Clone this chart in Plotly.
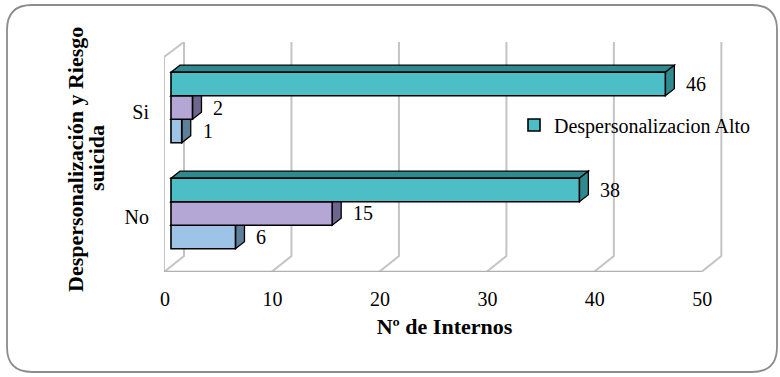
import plotly.graph_objects as go

# ---- data ----
categories = ["No", "Si"]
series_names = ["Despersonalizacion Bajo", "Despersonalizacion Medio", "Despersonalizacion Alto"]
bajo = [6, 1]
medio = [15, 2]
alto = [38, 46]
x_ticks = [0, 10, 20, 30, 40, 50]

# ---- styling ----
FONT = "Liberation Serif, Times New Roman, serif"
front_colors = ["#9DC3E6", "#B4A7D6", "#4BBEC6"]
side_colors = ["#5E7F98", "#6F6690", "#2F8A90"]
grid_color = "#C4C4C4"

W, H = 780, 377
L, R, T, B = 164, 55, 42, 105
plot_w = W - L - R
plot_h = H - T - B

# axis ranges (bar front faces start slightly right of the floor edge)
x_min, x_max = -0.65, 51.55
y_min, y_max = -0.552, 1.618
pxx = plot_w / (x_max - x_min)   # pixels per x unit
pxy = plot_h / (y_max - y_min)   # pixels per y unit

bar_w = 0.222
offsets = [-1.5 * bar_w, -0.5 * bar_w, 0.5 * bar_w]
depth_dx = 9 / pxx
depth_dy = 7 / pxy

ypos = list(range(len(categories)))

fig = go.Figure()
series = [bajo, medio, alto]
for i, vals in enumerate(series):
    fig.add_trace(go.Bar(
        x=vals, y=ypos, orientation="h", name=series_names[i],
        width=bar_w, offset=offsets[i],
        marker=dict(color=front_colors[i], line=dict(color="#000000", width=1.6)),
        showlegend=(i == 2), hoverinfo="x",
    ))

shapes = []
# wall / floor geometry (in data units via pixel offsets)
front_off = -7 / pxx
back_off = 13 / pxx
y_floor_front = y_min
y_floor_back = y_min + 16 / pxy
y_wall_top_back = y_max
y_wall_top_front = y_max - 15 / pxy

wall_line = dict(color=grid_color, width=2)
# left side wall
shapes.append(dict(
    type="path", xref="x", yref="y", layer="below", line=wall_line,
    path=(f"M{front_off},{y_floor_front} L{front_off},{y_wall_top_front} "
          f"L{back_off},{y_wall_top_back} L{back_off},{y_floor_back} Z"),
))
# back wall gridlines and floor diagonals
for v in x_ticks[1:]:
    shapes.append(dict(
        type="path", xref="x", yref="y", layer="below", line=wall_line,
        path=(f"M{v + back_off},{y_wall_top_back} L{v + back_off},{y_floor_back} "
              f"L{v + front_off},{y_floor_front}"),
    ))
# front floor edge
shapes.append(dict(
    type="line", xref="x", yref="y", layer="below",
    x0=front_off, x1=x_ticks[-1] + front_off, y0=y_floor_front, y1=y_floor_front,
    line=dict(color="#B0B0B0", width=2.5),
))

# 3D faces of each bar: top face and right end face
for i, vals in enumerate(series):
    for yc, v in zip(ypos, vals):
        y0 = yc + offsets[i]
        y1 = y0 + bar_w
        shapes.append(dict(
            type="path", xref="x", yref="y", layer="below",
            fillcolor=side_colors[i], line=dict(color="#000000", width=1.3),
            path=(f"M0,{y1} L{depth_dx},{y1 + depth_dy} L{v + depth_dx},{y1 + depth_dy} "
                  f"L{v},{y1} Z"),
        ))
        shapes.append(dict(
            type="path", xref="x", yref="y", layer="below",
            fillcolor=side_colors[i], line=dict(color="#000000", width=1.3),
            path=(f"M{v},{y1} L{v + depth_dx},{y1 + depth_dy} L{v + depth_dx},{y0 + depth_dy} "
                  f"L{v},{y0} Z"),
        ))


def px_to_paper(px, py):
    return (px - L) / plot_w, (H - B - py) / plot_h


def P(px, py):
    x, y = px_to_paper(px, py)
    return f"{x:.5f},{y:.5f}"


# rounded outer border
bx0, by0, bx1, by1, rad = 7, 5, 777, 372, 25
border_path = (
    f"M{P(bx0 + rad, by0)} L{P(bx1 - rad, by0)} Q{P(bx1, by0)} {P(bx1, by0 + rad)} "
    f"L{P(bx1, by1 - rad)} Q{P(bx1, by1)} {P(bx1 - rad, by1)} "
    f"L{P(bx0 + rad, by1)} Q{P(bx0, by1)} {P(bx0, by1 - rad)} "
    f"L{P(bx0, by0 + rad)} Q{P(bx0, by0)} {P(bx0 + rad, by0)} Z"
)
shapes.append(dict(type="path", xref="paper", yref="paper", layer="below",
                   path=border_path, line=dict(color="#8C8C8C", width=1.8)))

# value labels
annotations = []
for i, vals in enumerate(series):
    for yc, v in zip(ypos, vals):
        annotations.append(dict(
            x=v, y=yc + offsets[i] + bar_w / 2, xref="x", yref="y",
            text=str(v), showarrow=False, xanchor="left", yanchor="middle",
            xshift=19, font=dict(family=FONT, size=20, color="#000000"),
        ))

# y axis title, two rotated lines
y_title_lines = ["Despersonalización y Riesgo", "suicida"]
for line_text, (cx, cy) in zip(y_title_lines, [(75, 160), (96, 158)]):
    tx, ty = px_to_paper(cx, cy)
    annotations.append(dict(
        x=tx, y=ty, xref="paper", yref="paper", textangle=-90, showarrow=False,
        text=f"<b>{line_text}</b>",
        font=dict(family=FONT, size=22, color="#000000"),
        xanchor="center", yanchor="middle",
    ))

lx, ly = px_to_paper(514, 125)
tick_shift = 4 / pxy
fig.update_layout(
    width=W, height=H,
    margin=dict(l=L, r=R, t=T, b=B, pad=0),
    paper_bgcolor="#FFFFFF", plot_bgcolor="rgba(0,0,0,0)",
    barmode="overlay",
    shapes=shapes, annotations=annotations,
    font=dict(family=FONT, size=20, color="#000000"),
    legend=dict(x=lx, y=ly, xanchor="left", yanchor="middle",
                bgcolor="rgba(0,0,0,0)", font=dict(family=FONT, size=20),
                itemwidth=30),
    xaxis=dict(
        range=[x_min, x_max], tickvals=x_ticks, ticktext=[str(t) for t in x_ticks],
        showgrid=False, zeroline=False, showline=False, ticks="",
        ticklabelstandoff=13, ticklabelshift=-6,
        tickfont=dict(family=FONT, size=20),
        title=dict(text="<b>Nº de Internos</b>", standoff=9,
                   font=dict(family=FONT, size=22)),
    ),
    yaxis=dict(
        range=[y_min, y_max], tickvals=[p - tick_shift for p in ypos], ticktext=categories,
        showgrid=False, zeroline=False, showline=False, ticks="",
        ticklabelstandoff=14, tickfont=dict(family=FONT, size=20),
    ),
)

fig.write_html("out.html")
